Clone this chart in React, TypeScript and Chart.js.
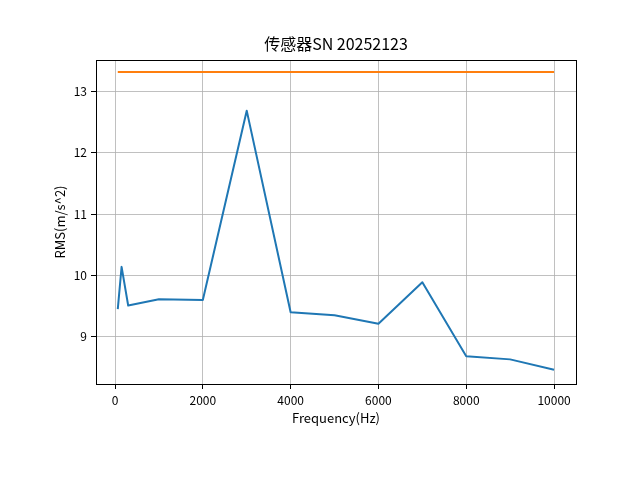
import React, { useEffect, useRef } from "react";
import { Chart, registerables } from "chart.js";

Chart.register(...registerables);

const titleText = "传感器SN 20252123";
const xLabel = "Frequency(Hz)";
const yLabel = "RMS(m/s^2)";

const frequencies = [63, 150, 300, 1000, 2000, 3000, 4000, 5000, 6000, 7000, 8000, 9000, 10000];
const rmsValues = [9.45, 10.14, 9.51, 9.61, 9.6, 12.69, 9.4, 9.35, 9.21, 9.89, 8.68, 8.63, 8.46];
const limitFreqs = [63, 10000];
const limitValues = [13.32, 13.32];

const xTicks = [0, 2000, 4000, 6000, 8000, 10000];
const yTicks = [9, 10, 11, 12, 13];

const FONT = "'Noto Sans CJK SC', 'DejaVu Sans', sans-serif";

export default function App() {
  const ref = useRef<HTMLCanvasElement | null>(null);

  useEffect(() => {
    if (!ref.current) return;
    const textPlugin = {
      id: "textPlugin",
      afterDraw(chart: any) {
        const ctx = chart.ctx;
        const a = chart.chartArea;
        ctx.save();
        ctx.strokeStyle = "#000";
        ctx.lineWidth = 1;
        ctx.strokeRect(Math.round(a.left) + 0.5, Math.round(a.top) + 0.5, Math.round(a.right - a.left), Math.round(a.bottom - a.top));
        ctx.fillStyle = "#000";
        ctx.textAlign = "center";
        ctx.textBaseline = "middle";
        ctx.font = `16px ${FONT}`;
        ctx.fillText(titleText, (a.left + a.right) / 2, 44);
        ctx.font = `13px ${FONT}`;
        ctx.fillText(xLabel, (a.left + a.right) / 2, 418);
        ctx.translate(60, (a.top + a.bottom) / 2);
        ctx.rotate(-Math.PI / 2);
        ctx.fillText(yLabel, 0, 0);
        ctx.restore();
      },
    };

    const chart = new Chart(ref.current, {
      type: "line",
      data: {
        datasets: [
          {
            label: "RMS",
            data: frequencies.map((f, i) => ({ x: f, y: rmsValues[i] })),
            borderColor: "#1f77b4",
            borderWidth: 2,
            borderJoinStyle: "round",
            pointRadius: 0,
            tension: 0,
            fill: false,
          },
          {
            label: "Limit",
            data: limitFreqs.map((f, i) => ({ x: f, y: limitValues[i] })),
            borderColor: "#ff7f0e",
            borderWidth: 2,
            borderJoinStyle: "round",
            pointRadius: 0,
            tension: 0,
            fill: false,
          },
        ],
      },
      options: {
        responsive: false,
        animation: false,
        layout: { padding: { left: 0, top: 60, right: 64, bottom: 0 } },
        plugins: {
          legend: { display: false },
          title: { display: false },
          tooltip: { enabled: false },
        },
        scales: {
          x: {
            type: "linear",
            min: -433,
            max: 10500,
            afterBuildTicks: (s: any) => {
              s.ticks = xTicks.map((v) => ({ value: v }));
            },
            afterFit: (s: any) => {
              s.height = 96;
            },
            border: { display: false },
            grid: { color: "#b0b0b0", lineWidth: 0.8, tickColor: "#000", tickLength: 5, tickWidth: 1 },
            ticks: {
              color: "#000",
              font: { family: FONT, size: 12 },
              padding: 4,
              maxRotation: 0,
              autoSkip: false,
              callback: (v: any) => String(v),
            },
          },
          y: {
            type: "linear",
            min: 8.228,
            max: 13.517,
            afterBuildTicks: (s: any) => {
              s.ticks = yTicks.map((v) => ({ value: v }));
            },
            afterFit: (s: any) => {
              s.width = 96;
            },
            border: { display: false },
            grid: { color: "#b0b0b0", lineWidth: 0.8, tickColor: "#000", tickLength: 5, tickWidth: 1 },
            ticks: {
              color: "#000",
              font: { family: FONT, size: 12 },
              padding: 4,
              autoSkip: false,
              callback: (v: any) => String(v),
            },
          },
        },
      },
      plugins: [textPlugin],
    });
    return () => chart.destroy();
  }, []);

  return (
    <div style={{ position: "fixed", left: 0, top: 0, width: 640, height: 480, background: "#fff" }}>
      <canvas ref={ref} width={640} height={480} style={{ width: 640, height: 480 }} />
    </div>
  );
}
